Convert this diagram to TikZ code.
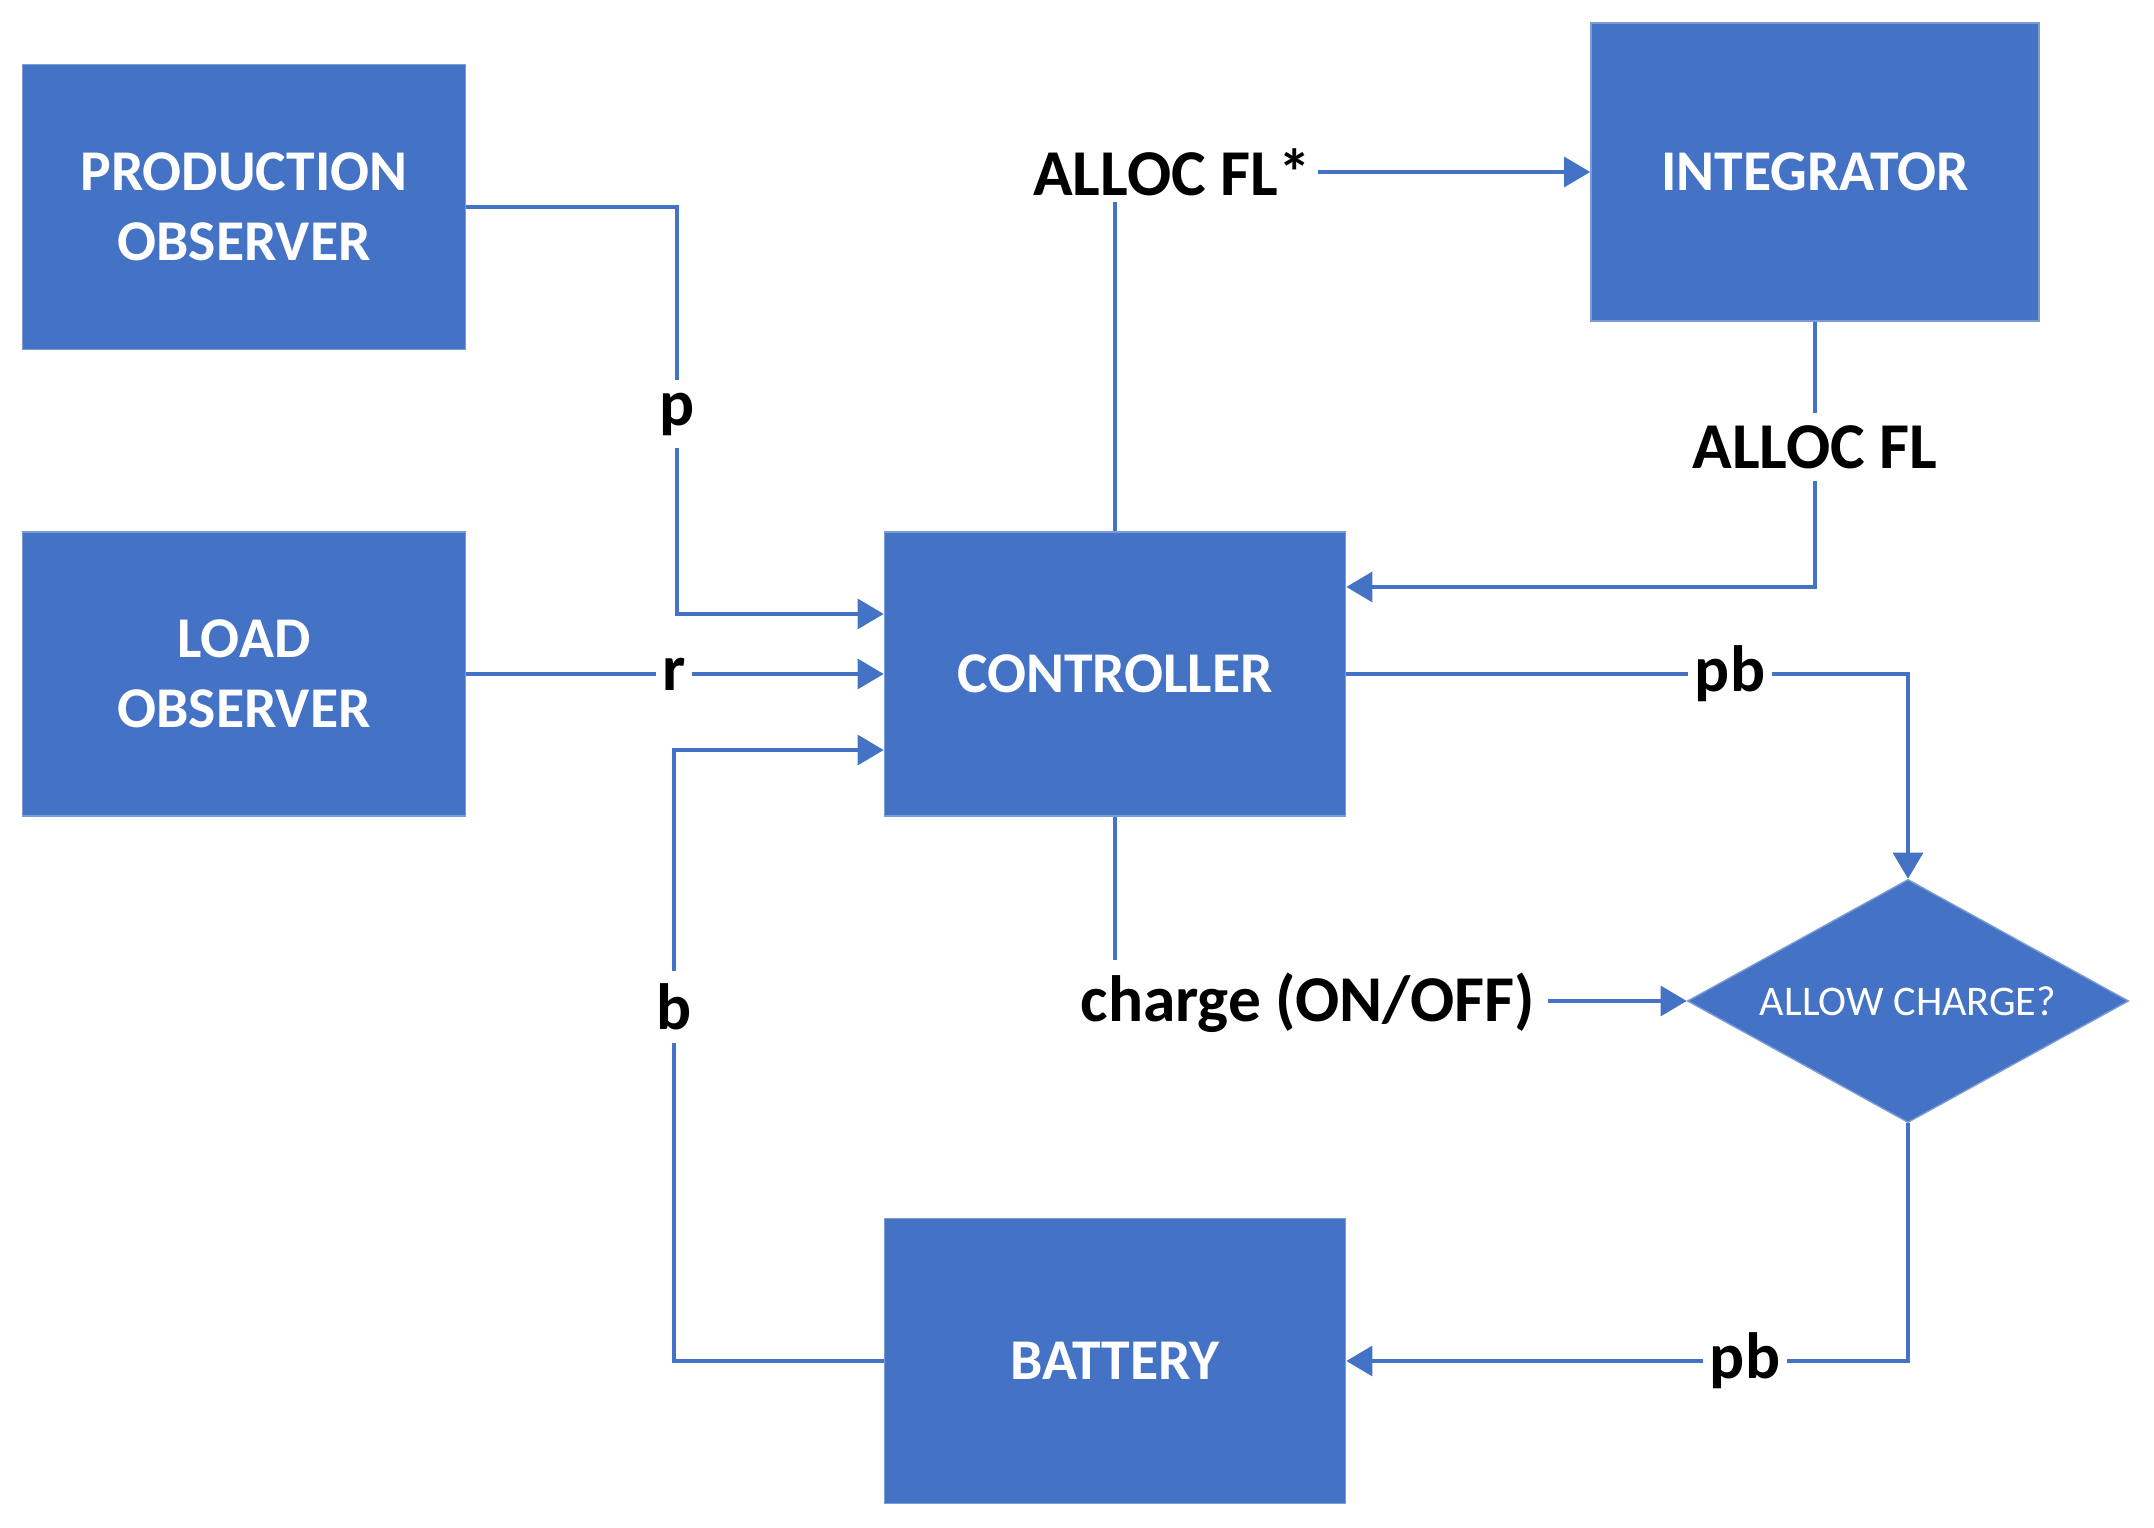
\documentclass[tikz,border=0pt]{standalone}
\usepackage{fontspec}
\setmainfont{Carlito}
\usetikzlibrary{arrows.meta,shapes.geometric}
\definecolor{boxc}{RGB}{68,114,196}

\begin{document}
\begin{tikzpicture}[
  x=0.01cm, y=-0.01cm,
  blk/.style={rectangle, fill=boxc, draw=boxc!70!white, line width=0.4pt,
              text=white, align=center, inner sep=0pt,
              font=\fontsize{16.4}{19.9}\selectfont\bfseries},
  dec/.style={diamond, aspect=1.81, fill=boxc, draw=boxc!70!white, line width=0.4pt,
              text=white, inner sep=0pt, minimum width=4.41cm, minimum height=2.43cm,
              font=\fontsize{12}{14}\selectfont},
  sig/.style={font=\fontsize{18.6}{21}\selectfont\bfseries, inner sep=0.12cm},
  wire/.style={draw=boxc, line width=0.9pt},
  arr/.style={wire, -{Triangle[length=0.26cm,width=0.3cm]}},
]
\useasboundingbox (0,0) rectangle (2154,1528);

% ---------------- blocks ----------------
\node[blk, minimum width=4.43cm, minimum height=2.85cm] (prodobs) at (244,207) {PRODUCTION\\OBSERVER};
\node[blk, minimum width=4.43cm, minimum height=2.84cm] (loadobs) at (244,674) {LOAD\\OBSERVER};
\node[blk, minimum width=4.61cm, minimum height=2.84cm] (ctrl)    at (1115,674) {CONTROLLER};
\node[blk, minimum width=4.48cm, minimum height=2.98cm] (integ)   at (1815,172) {INTEGRATOR};
\node[blk, minimum width=4.61cm, minimum height=2.85cm] (batt)    at (1115,1361) {BATTERY};
\node[dec] (allow) at (1908,1001) {ALLOW CHARGE?};

% ---------------- signal labels ----------------
\node[sig] (lblp)      at (677,414)   {p};
\node[sig, inner sep=0.06cm] (lblr) at (674,674) {r};
\node[sig] (lblb)      at (674,1007)  {b};
\node[sig, inner sep=0.06cm] (allocstar) at (1172,172)  {ALLOC FL*};
\node[sig] (allocfl)   at (1815,447)  {ALLOC FL};
\node[sig, inner sep=0.06cm] (pbtop) at (1730,674)  {pb};
\node[sig, inner sep=0.06cm] (pbbot) at (1745,1361) {pb};
\node[sig] (charge)    at (1308,1003) {charge (ON/OFF)};

% inputs to the controller
\draw[wire] (prodobs.east) -| (lblp.north);
\draw[arr] (lblp.south) |- ([yshift=0.6cm]ctrl.west);
\draw[wire] (loadobs.east) -- (lblr.west);
\draw[arr] (lblr.east) -- (ctrl.west);
\draw[wire] (batt.west) -| (lblb.south);
\draw[arr] (lblb.north) |- ([yshift=-0.76cm]ctrl.west);

% allocation loop through the integrator
\draw[wire] (ctrl.north) -- (ctrl.north |- allocstar.south);
\draw[arr] (allocstar.east) -- (integ.west);
\draw[wire] (integ.south) -- (allocfl.north);
\draw[arr] (allocfl.south) |- ([yshift=0.87cm]ctrl.east);

% battery power path
\draw[wire] (ctrl.east) -- (pbtop.west);
\draw[arr] (pbtop.east) -| (allow.north);
\draw[wire] (ctrl.south) -- (ctrl.south |- charge.north);
\draw[arr] (charge.east |- allow.west) -- (allow.west);
\draw[wire] (allow.south) |- (pbbot.east);
\draw[arr] (pbbot.west) -- (batt.east);

\end{tikzpicture}
\end{document}
